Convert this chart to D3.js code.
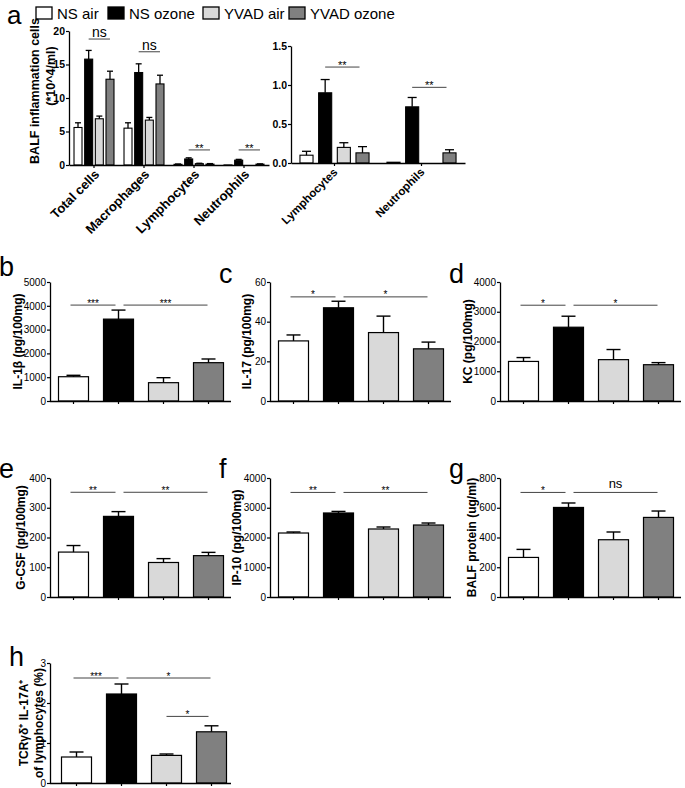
<!DOCTYPE html>
<html><head><meta charset="utf-8">
<script src="https://cdn.jsdelivr.net/npm/d3@7"></script>
<style>
body{margin:0;background:#fff}
svg{display:block;font-family:"Liberation Sans",Arial,Helvetica,sans-serif}
</style></head><body>
<svg id="chart" width="685" height="788"></svg>
<script>
// ---------- data ----------
const groups = ["NS air", "NS ozone", "YVAD air", "YVAD ozone"];
const colors = ["#ffffff", "#000000", "#d9d9d9", "#808080"];

const cellTypes = ["Total cells", "Macrophages", "Lymphocytes", "Neutrophils"];
const cellMeans = [[5.6, 15.8, 6.9, 12.8], [5.5, 13.8, 6.7, 12.1], [0.1, 0.9, 0.2, 0.13], [0.01, 0.72, 0, 0.13]];
const cellErrs  = [[0.7, 1.3, 0.4, 1.2], [0.8, 1.3, 0.4, 1.3], [0.05, 0.17, 0.06, 0.08], [0, 0.12, 0, 0.04]];
const cellTicks = [0, 5, 10, 15, 20];
const cellSig = [["Total cells", "ns", 18.8], ["Macrophages", "ns", 16.9], ["Lymphocytes", "**", 2.25], ["Neutrophils", "**", 2.25]];

const smallTypes = ["Lymphocytes", "Neutrophils"];
const smallTicks = [0, 0.5, 1.0, 1.5];
const smallSig = [["Lymphocytes", "**", 1.23], ["Neutrophils", "**", 0.97]];

const il1b = [1020, 3440, 770, 1610];   const il1bErr = [60, 380, 210, 155];   const il1bTicks = [0, 1000, 2000, 3000, 4000, 5000];
const il17 = [30.3, 47, 34.5, 26.3];    const il17Err = [3, 3.3, 8.3, 3.4];     const il17Ticks = [0, 20, 40, 60];
const kc = [1330, 2480, 1390, 1220];    const kcErr = [130, 370, 340, 70];      const kcTicks = [0, 1000, 2000, 3000, 4000];
const gcsf = [151, 271, 116, 139];      const gcsfErr = [22, 16, 13, 11];       const gcsfTicks = [0, 100, 200, 300, 400];
const ip10 = [2151, 2824, 2286, 2420];  const ip10Err = [34, 53, 67, 67];       const ip10Ticks = [0, 1000, 2000, 3000, 4000];
const prot = [266, 602, 385, 535];      const protErr = [54, 30, 52, 43];       const protTicks = [0, 200, 400, 600, 800];
const tcr = [0.65, 2.225, 0.69, 1.28];  const tcrErr = [0.125, 0.25, 0.035, 0.15]; const tcrTicks = [0, 1, 2, 3];

const il1bSig = [[0, 1, "***", 4030], [1, 3, "***", 4030]];
const il17Sig = [[0, 1, "*", 52.5], [1, 3, "*", 52.5]];
const kcSig = [[0, 1, "*", 3220], [1, 3, "*", 3220]];
const gcsfSig = [[0, 1, "**", 352], [1, 3, "**", 352]];
const ip10Sig = [[0, 1, "**", 3515], [1, 3, "**", 3515]];
const protSig = [[0, 1, "*", 703], [1, 3, "ns", 703]];
const tcrSig = [[0, 1, "***", 2.625], [1, 3, "*", 2.625], [2, 3, "*", 1.665]];

// ---------- drawing ----------
const svg = d3.select("#chart");
const FONT = '"Liberation Sans",Arial,Helvetica,sans-serif';

function styleAxis(g, fs, bold) {
  g.select(".domain").attr("stroke", "#000").attr("stroke-width", 1.3);
  g.selectAll(".tick line").attr("stroke", "#000").attr("stroke-width", 1.2);
  g.selectAll(".tick text").attr("fill", "#000").attr("font-size", fs)
    .attr("font-family", FONT).attr("font-weight", bold ? "bold" : "normal");
}

// Legend and panel letter a
svg.append("text").attr("x", 7).attr("y", 24).attr("font-size", 26).text("a");
const legX = [36, 108, 203, 289];
groups.forEach((gname, i) => {
  svg.append("rect").attr("x", legX[i]).attr("y", 7).attr("width", 16).attr("height", 12)
    .attr("fill", colors[i]).attr("stroke", "#000").attr("stroke-width", 1.3);
  svg.append("text").attr("x", legX[i] + 21).attr("y", 19).attr("font-size", 15).text(gname);
});

// Panel a left
(function () {
  const g = svg.append("g");
  const y = d3.scaleLinear().domain([0, 20]).range([165, 31]);
  const x = d3.scaleBand().domain(cellTypes).range([69, 269]);
  const xi = d3.scaleBand().domain(groups).range([0, x.bandwidth()]).paddingInner(0.25).paddingOuter(0.47);
  cellTypes.forEach((c, ci) => {
    const gg = g.append("g");
    gg.selectAll("rect").data(cellMeans[ci]).join("rect")
      .attr("x", (d, i) => x(c) + xi(groups[i])).attr("y", d => y(d))
      .attr("width", xi.bandwidth()).attr("height", d => y(0) - y(d))
      .attr("fill", (d, i) => colors[i]).attr("stroke", "#000").attr("stroke-width", 1.1);
    cellMeans[ci].forEach((m, i) => {
      const e = cellErrs[ci][i];
      if (e <= 0) return;
      const cx = x(c) + xi(groups[i]) + xi.bandwidth() / 2;
      gg.append("line").attr("x1", cx).attr("x2", cx).attr("y1", y(m)).attr("y2", y(m + e)).attr("stroke", "#000").attr("stroke-width", 1.3);
      gg.append("line").attr("x1", cx - 3).attr("x2", cx + 3).attr("y1", y(m + e)).attr("y2", y(m + e)).attr("stroke", "#000").attr("stroke-width", 1.3);
    });
  });
  cellSig.forEach(([c, lab, v]) => {
    const x1 = x(c) + xi(groups[1]) + xi.bandwidth() / 2;
    const x2 = x(c) + xi(groups[3]) + xi.bandwidth() / 2;
    g.append("line").attr("x1", x1).attr("x2", x2).attr("y1", y(v)).attr("y2", y(v)).attr("stroke", "#444").attr("stroke-width", 1);
    if (lab === "ns") {
      g.append("text").attr("x", (x1 + x2) / 2).attr("y", y(v) - 2).attr("text-anchor", "middle").attr("font-size", 14).text(lab);
    } else {
      g.append("text").attr("x", (x1 + x2) / 2).attr("y", y(v) + 2).attr("text-anchor", "middle").attr("font-size", 11).text(lab);
    }
  });
  const ya = g.append("g").attr("transform", "translate(69,0)")
    .call(d3.axisLeft(y).tickValues(cellTicks).tickSize(3).tickSizeOuter(0).tickPadding(1));
  styleAxis(ya, 10.5, true);
  const xa = g.append("g").attr("transform", "translate(0,165)")
    .call(d3.axisBottom(x).tickSize(3).tickSizeOuter(0).tickFormat(""));
  styleAxis(xa, 10, true);
  cellTypes.forEach(c => {
    const cx = x(c) + x.bandwidth() / 2 + 3;
    g.append("text").attr("transform", `translate(${cx},172) rotate(-45)`)
      .attr("text-anchor", "end").attr("dy", "0.35em").attr("font-size", 13).attr("font-weight", "bold").text(c);
  });
  g.append("text").attr("transform", "translate(35,91) rotate(-90)").attr("text-anchor", "middle").attr("dy", "0.35em")
    .attr("font-size", 12.5).attr("font-weight", "bold").text("BALF inflammation cells");
  g.append("text").attr("transform", "translate(51,76) rotate(-90)").attr("text-anchor", "middle").attr("dy", "0.35em")
    .attr("font-size", 12.5).attr("font-weight", "bold").text("(*10^4/ml)");
})();

// Panel a right
(function () {
  const g = svg.append("g");
  const y = d3.scaleLinear().domain([0, 1.5]).range([163, 46]);
  const x = d3.scaleBand().domain(smallTypes).range([291, 465]);
  const xi = d3.scaleBand().domain(groups).range([0, x.bandwidth()]).paddingInner(0.3).paddingOuter(0.48);
  smallTypes.forEach(c => {
    const ci = cellTypes.indexOf(c);
    const gg = g.append("g");
    gg.selectAll("rect").data(cellMeans[ci]).join("rect")
      .attr("x", (d, i) => x(c) + xi(groups[i])).attr("y", d => y(d))
      .attr("width", xi.bandwidth()).attr("height", d => y(0) - y(d))
      .attr("fill", (d, i) => colors[i]).attr("stroke", "#000").attr("stroke-width", 1.1)
      .attr("display", d => d > 0 ? null : "none");
    cellMeans[ci].forEach((m, i) => {
      const e = cellErrs[ci][i];
      if (e <= 0) return;
      const cx = x(c) + xi(groups[i]) + xi.bandwidth() / 2;
      gg.append("line").attr("x1", cx).attr("x2", cx).attr("y1", y(m)).attr("y2", y(m + e)).attr("stroke", "#000").attr("stroke-width", 1.3);
      gg.append("line").attr("x1", cx - 4.5).attr("x2", cx + 4.5).attr("y1", y(m + e)).attr("y2", y(m + e)).attr("stroke", "#000").attr("stroke-width", 1.3);
    });
  });
  smallSig.forEach(([c, lab, v]) => {
    const x1 = x(c) + xi(groups[1]) + xi.bandwidth() / 2;
    const x2 = x(c) + xi(groups[3]) + xi.bandwidth() / 2 - 3;
    g.append("line").attr("x1", x1).attr("x2", x2).attr("y1", y(v)).attr("y2", y(v)).attr("stroke", "#444").attr("stroke-width", 1);
    g.append("text").attr("x", (x1 + x2) / 2).attr("y", y(v) + 2).attr("text-anchor", "middle").attr("font-size", 11).text(lab);
  });
  const ya = g.append("g").attr("transform", "translate(291,0)")
    .call(d3.axisLeft(y).tickValues(smallTicks).tickSize(3).tickSizeOuter(0).tickPadding(1).tickFormat(d3.format(".1f")));
  styleAxis(ya, 10.5, true);
  const xa = g.append("g").attr("transform", "translate(0,163)")
    .call(d3.axisBottom(x).tickSize(3).tickSizeOuter(0).tickFormat(""));
  styleAxis(xa, 10, true);
  smallTypes.forEach(c => {
    const cx = x(c) + x.bandwidth() / 2 + 1;
    g.append("text").attr("transform", `translate(${cx},170) rotate(-45)`)
      .attr("text-anchor", "end").attr("dy", "0.35em").attr("font-size", 11.5).attr("font-weight", "bold").text(c);
  });
})();

// Panels b-h
const panels = [
  { letter: "b", lx: -1, ly: 276, label: ["IL-1β (pg/100mg)"], labX: [18], means: il1b, errs: il1bErr, ticks: il1bTicks, sig: il1bSig, x0: 50, top: 282, bot: 401 },
  { letter: "c", lx: 219, ly: 283, label: ["IL-17 (pg/100mg)"], labX: [247], means: il17, errs: il17Err, ticks: il17Ticks, sig: il17Sig, x0: 270, top: 282, bot: 401 },
  { letter: "d", lx: 449, ly: 283, label: ["KC (pg/100mg)"], labX: [468], means: kc, errs: kcErr, ticks: kcTicks, sig: kcSig, x0: 500, top: 282, bot: 401 },
  { letter: "e", lx: -1, ly: 478, label: ["G-CSF (pg/100mg)"], labX: [21], means: gcsf, errs: gcsfErr, ticks: gcsfTicks, sig: gcsfSig, x0: 50, top: 478, bot: 597 },
  { letter: "f", lx: 219, ly: 478, label: ["IP-10 (pg/100mg)"], labX: [237], means: ip10, errs: ip10Err, ticks: ip10Ticks, sig: ip10Sig, x0: 270, top: 478, bot: 597 },
  { letter: "g", lx: 449, ly: 478, label: ["BALF protein (ug/ml)"], labX: [472], means: prot, errs: protErr, ticks: protTicks, sig: protSig, x0: 500, top: 478, bot: 597 },
  { letter: "h", lx: 9, ly: 666, label: ["TCRγδ⁺ IL-17A⁺", "of lymphocytes (%)"], labX: [24, 39], means: tcr, errs: tcrErr, ticks: tcrTicks, sig: tcrSig, x0: 50, top: 663, bot: 783, shift: 3 }
];

panels.forEach(p => {
  const g = svg.append("g");
  const s = p.shift || 0;
  const x = d3.scaleBand().domain(groups).range([p.x0 + 1 + s, p.x0 + 181 + s]).paddingInner(1 / 3).paddingOuter(1 / 6);
  const y = d3.scaleLinear().domain([0, d3.max(p.ticks)]).range([p.bot, p.top]);
  g.selectAll("rect").data(p.means).join("rect")
    .attr("x", (d, i) => x(groups[i])).attr("y", d => y(d))
    .attr("width", x.bandwidth()).attr("height", d => y(0) - y(d))
    .attr("fill", (d, i) => colors[i]).attr("stroke", "#000").attr("stroke-width", 1.2);
  p.means.forEach((m, i) => {
    const cx = x(groups[i]) + x.bandwidth() / 2;
    const yt = y(m + p.errs[i]);
    g.append("line").attr("x1", cx).attr("x2", cx).attr("y1", y(m)).attr("y2", yt).attr("stroke", "#000").attr("stroke-width", 1.4);
    g.append("line").attr("x1", cx - 7).attr("x2", cx + 7).attr("y1", yt).attr("y2", yt).attr("stroke", "#000").attr("stroke-width", 1.4);
  });
  p.sig.forEach(([a, b, lab, v]) => {
    const ca = x(groups[a]) + x.bandwidth() / 2, cb = x(groups[b]) + x.bandwidth() / 2;
    let x1, x2;
    if (a === 0) { x1 = ca - 3; x2 = cb - 3; }
    else if (a === 1) { x1 = ca + 5; x2 = cb - 1; }
    else { x1 = ca; x2 = cb - 3; }
    g.append("line").attr("x1", x1).attr("x2", x2).attr("y1", y(v)).attr("y2", y(v)).attr("stroke", "#444").attr("stroke-width", 1);
    if (lab === "ns") {
      g.append("text").attr("x", (x1 + x2) / 2).attr("y", y(v) - 4).attr("text-anchor", "middle").attr("font-size", 13).text(lab);
    } else {
      g.append("text").attr("x", (x1 + x2) / 2).attr("y", y(v) + 1.5).attr("text-anchor", "middle").attr("font-size", 10).text(lab);
    }
  });
  const ya = g.append("g").attr("transform", `translate(${p.x0},0)`)
    .call(d3.axisLeft(y).tickValues(p.ticks).tickSize(3).tickSizeOuter(0).tickPadding(1).tickFormat(d3.format("d")));
  styleAxis(ya, 10, false);
  const xa = g.append("g").attr("transform", `translate(0,${p.bot})`)
    .call(d3.axisBottom(x).tickSize(3).tickSizeOuter(0).tickFormat(""));
  xa.select(".domain").attr("d", `M${p.x0},0.5H${p.x0 + 181}`);
  styleAxis(xa, 10, false);
  const cy = (p.top + p.bot) / 2;
  p.label.forEach((t, k) => {
    g.append("text").attr("transform", `translate(${p.labX[k]},${cy}) rotate(-90)`)
      .attr("text-anchor", "middle").attr("dy", "0.35em").attr("font-size", 12).attr("font-weight", "bold").text(t);
  });
  svg.append("text").attr("x", p.lx).attr("y", p.ly).attr("font-size", 27).text(p.letter);
});
</script>
</body></html>
